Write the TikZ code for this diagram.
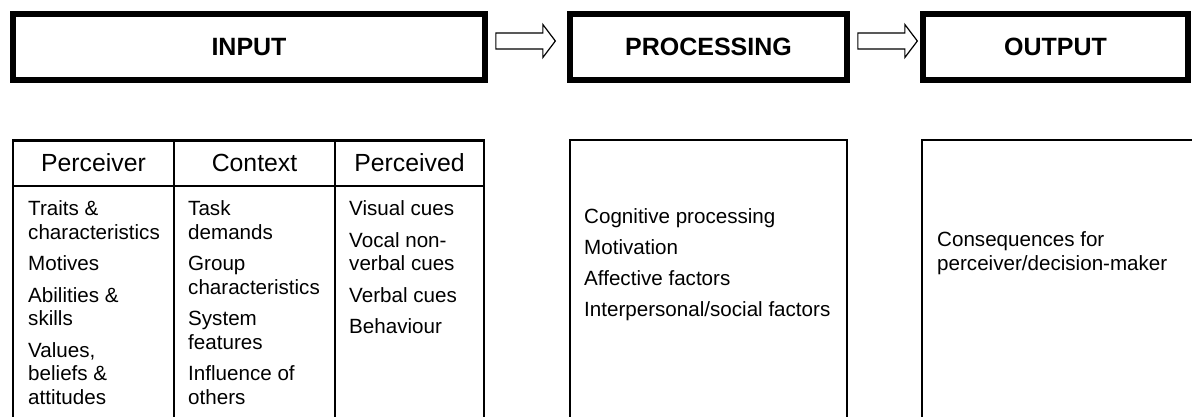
\documentclass[tikz,border=0pt]{standalone}
\usepackage{fontspec}
\setmainfont{Liberation Sans}
\usetikzlibrary{calc}

\newcommand{\bodytext}{\fontsize{20.6}{23.5}\selectfont}
\newcommand{\headtext}{\fontsize{24.8}{28}\selectfont}
\newcommand{\stagetext}{\fontsize{25}{28}\selectfont\bfseries}

\tikzset{
  stagebox/.style={draw, line width=5.7pt, inner sep=0pt, font=\stagetext},
  hollowarrow/.style={draw, line width=1.2pt, line join=miter, fill=white},
  frame/.style={draw, line width=2.3pt},
  colhead/.style={anchor=base, inner sep=0pt, font=\headtext},
  % multi-line cells are placed by the baseline of their last line
  cell/.style={anchor=base west, align=left, inner sep=0pt, font=\bodytext},
}

\begin{document}
\begin{tikzpicture}[x=1pt, y=-1pt]
  \clip (0,0) rectangle (1192,416);
  \fill[white] (0,0) rectangle (1192,416);

  % stage boxes along the top
  \node[stagebox, minimum width=472pt, minimum height=66pt] (input)      at (249,47)   {INPUT};
  \node[stagebox, minimum width=277pt, minimum height=66pt] (processing) at (708.5,47) {PROCESSING};
  \node[stagebox, minimum width=265pt, minimum height=66pt] (output)     at (1055.5,47) {OUTPUT};

  % hollow block arrows between the stages
  \coordinate (a1) at ($(input.east)+(8,-6)$);
  \coordinate (a2) at ($(processing.east)+(8,-6)$);
  \foreach \s in {a1,a2}{
    \draw[hollowarrow] (\s) ++(0,-8) -- ++(47,0) -- ++(0,-8.5) -- ++(12.5,16.5)
      -- ++(-12.5,16.5) -- ++(0,-8.5) -- ++(-47,0) -- cycle;
  }

  % input table frame
  \draw[frame] (13,430) -- (13,140.5) -- (484,140.5) -- (484,430);
  \draw[frame] (13,186) -- (484,186);
  \draw[frame] (174,140.5) -- (174,430);
  \draw[frame] (335,140.5) -- (335,430);

  % column headings
  \node[colhead] (perceiverHead) at (93.5,171.7)  {Perceiver};
  \node[colhead] (contextHead)   at (254.5,171.7) {Context};
  \node[colhead] (perceivedHead) at (409.5,171.7) {Perceived};

  % column contents
  \node[cell] (perceiverList) at (28,404) {Traits \&\\characteristics\\[8pt]Motives\\[8pt]Abilities \&\\skills\\[8pt]Values,\\beliefs \&\\attitudes};
  \node[cell] (contextList) at (188,404) {Task\\demands\\[8pt]Group\\characteristics\\[8pt]System\\features\\[8pt]Influence of\\others};
  \node[cell] (perceivedList) at (349,333.5) {Visual cues\\[8pt]Vocal non-\\verbal cues\\[8pt]Verbal cues\\[8pt]Behaviour};

  % processing and output panels
  \draw[frame] (570,430) -- (570,140) -- (847,140) -- (847,430);
  \draw[frame] (922,430) -- (922,140) -- (1200,140);

  \node[cell] (processingList) at (584,316.7) {Cognitive processing\\[7.5pt]Motivation\\[7.5pt]Affective factors\\[7.5pt]Interpersonal/social factors};
  \node[cell] (outputList) at (937,270.3) {Consequences for\\perceiver/decision-maker};
\end{tikzpicture}
\end{document}
